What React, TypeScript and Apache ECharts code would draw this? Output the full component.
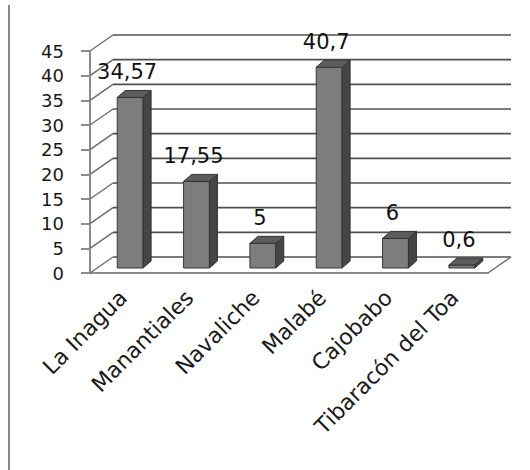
import { useEffect, useRef } from 'react';
import * as echarts from 'echarts';

const categories = ['La Inagua', 'Manantiales', 'Navaliche', 'Malabé', 'Cajobabo', 'Tibaracón del Toa'];
const values = [34.57, 17.55, 5, 40.7, 6, 0.6];
const yTicks = [0, 5, 10, 15, 20, 25, 30, 35, 40, 45];

const FONT = 'DejaVu Sans';
const DX = 23, DY = -16; // wall depth offset
const BOX = 7, BOY = -5; // bar front plane offset
const BDX = 8, BDY = -7; // bar depth

const fmt = (v: number) => String(v).replace('.', ',');

export default function App() {
  const ref = useRef<HTMLDivElement>(null);
  useEffect(() => {
    const chart = echarts.init(ref.current!, null, { renderer: 'svg' });
    chart.setOption({
      animation: false,
      backgroundColor: '#ffffff',
      textStyle: { fontFamily: FONT },
      graphic: [
        { type: 'line', shape: { x1: 9, y1: 5, x2: 9, y2: 470 }, style: { stroke: '#8a8a8a', lineWidth: 2 } },
      ],
      grid: { left: 90, right: 42, top: 51, bottom: 197 },
      xAxis: {
        type: 'category',
        data: categories,
        axisLine: { lineStyle: { color: '#8c8c8c', width: 2 } },
        axisTick: { length: 5, lineStyle: { color: '#8c8c8c', width: 2 } },
        axisLabel: { rotate: 45, margin: 21, fontSize: 22, color: '#1a1a1a', interval: 0, fontFamily: FONT },
      },
      yAxis: {
        type: 'value',
        min: 0,
        max: 45,
        interval: 5,
        axisLine: { show: true, lineStyle: { color: '#8c8c8c', width: 2 } },
        axisTick: { show: true, length: 9, lineStyle: { color: '#8c8c8c', width: 2 } },
        axisLabel: { margin: 26, fontSize: 18, color: '#1a1a1a', fontFamily: FONT },
        splitLine: { show: false },
      },
      series: [
        {
          type: 'custom',
          data: yTicks.map((v) => [0, v]),
          silent: true,
          z: 1,
          renderItem: (params: any, api: any) => {
            const cs = params.coordSys;
            const v = api.value(1);
            const y = api.coord([0, v])[1];
            const x0 = cs.x, x1 = cs.x + cs.width;
            const children: any[] = [
              { type: 'line', shape: { x1: x0, y1: y, x2: x0 + DX, y2: y + DY }, style: { stroke: '#6e6e6e', lineWidth: 1.5 } },
              { type: 'line', shape: { x1: x0 + DX, y1: y + DY, x2: x1 + DX, y2: y + DY }, style: { stroke: '#505050', lineWidth: 1.6 } },
            ];
            if (v === 0) {
              children.push({ type: 'line', shape: { x1: x1, y1: y, x2: x1 + DX, y2: y + DY }, style: { stroke: '#6e6e6e', lineWidth: 1.5 } });
            }
            return { type: 'group', children };
          },
        },
        {
          type: 'custom',
          data: values.map((v, i) => [i, v]),
          z: 3,
          renderItem: (params: any, api: any) => {
            const i = api.value(0), v = api.value(1);
            const base = api.coord([i, 0]);
            const top = api.coord([i, v]);
            const w = api.size([1, 0])[0] * 0.39;
            const l = base[0] - w / 2 + BOX, r = base[0] + w / 2 + BOX;
            const yb = base[1] + BOY, yt = top[1] + BOY;
            return {
              type: 'group',
              children: [
                { type: 'rect', shape: { x: l, y: yt, width: w, height: yb - yt }, style: { fill: '#7d7d7d', stroke: '#3a3a3a', lineWidth: 1 } },
                { type: 'polygon', shape: { points: [[r, yt], [r + BDX, yt + BDY], [r + BDX, yb + BDY], [r, yb]] }, style: { fill: '#454545', stroke: '#333', lineWidth: 1 } },
                { type: 'polygon', shape: { points: [[l, yt], [l + BDX, yt + BDY], [r + BDX, yt + BDY], [r, yt]] }, style: { fill: '#5c5c5c', stroke: '#333', lineWidth: 1 } },
                { type: 'text', x: (l + r) / 2 - 3, y: yt - 25, style: { text: fmt(v), fontSize: 21, fill: '#111', align: 'center', verticalAlign: 'middle', fontFamily: FONT } },
              ],
            };
          },
        },
      ],
    });
    return () => chart.dispose();
  }, []);
  return <div ref={ref} style={{ position: 'fixed', left: 0, top: 0, width: 530, height: 470 }} />;
}
